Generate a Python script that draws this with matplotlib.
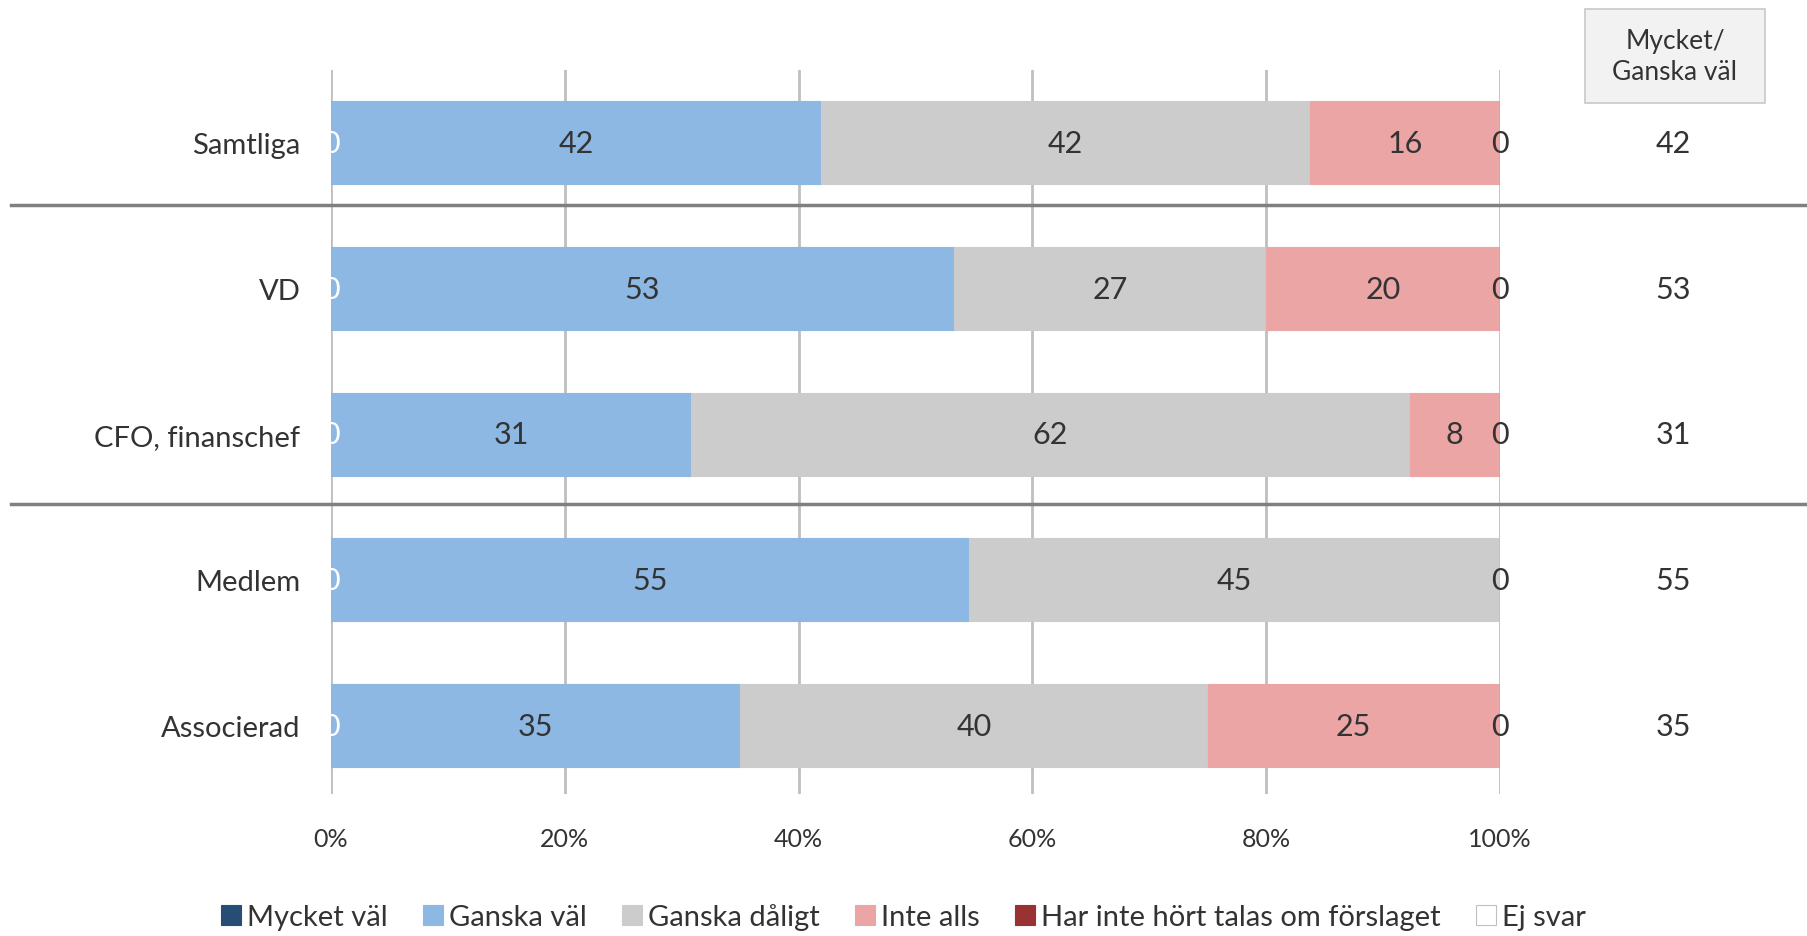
import matplotlib.pyplot as plt
import numpy as np

plt.rcParams['font.family'] = ['Lato', 'DejaVu Sans']

groups = ['Samtliga', 'VD', 'CFO, finanschef', 'Medlem', 'Associerad']
series = ['Mycket väl', 'Ganska väl', 'Ganska dåligt', 'Inte alls',
          'Har inte hört talas om förslaget', 'Ej svar']
colors = ['#264d73', '#8db8e3', '#cccccc', '#eba5a5', '#993333', '#ffffff']
label_colors = ['white', '#333333', '#333333', '#333333', 'white', '#333333']

mycket_val = [0, 0, 0, 0, 0]
ganska_val = [41.9, 53.3, 30.8, 54.6, 35.0]
ganska_daligt = [41.9, 26.7, 61.5, 45.4, 40.0]
inte_alls = [16.2, 20.0, 7.7, 0, 25.0]
har_inte_hort = [0, 0, 0, 0, 0]
ej_svar = [0, 0, 0, 0, 0]
summary = [42, 53, 31, 55, 35]

values = [mycket_val, ganska_val, ganska_daligt, inte_alls, har_inte_hort, ej_svar]

fig = plt.figure(figsize=(18.07, 9.37), dpi=100)
ax = fig.add_axes([0.1832, 0.1515, 0.6468, 0.7727])

y = np.arange(len(groups))
left = np.zeros(len(groups))
for name, vals, col, lc in zip(series, values, colors, label_colors):
    vals = np.array(vals)
    ax.barh(y, vals, left=left, height=0.57, color=col, label=name,
            edgecolor='#bfbfbf' if col == '#ffffff' else col, linewidth=0.8, zorder=2)
    for i, v in enumerate(vals):
        if v > 0 or name in ('Mycket väl', 'Ej svar'):
            ax.text(left[i] + v / 2, y[i], f'{v:.0f}', ha='center', va='center',
                    fontsize=22, color=lc, zorder=3)
    left += vals

ax.set_xlim(0, 100)
ax.set_ylim(4.47, -0.5)
ax.set_xticks(range(0, 101, 20))
ax.set_xticklabels([f'{t}%' for t in range(0, 101, 20)], fontsize=18, color='#333333')
ax.set_yticks(y)
ax.set_yticklabels(groups, fontsize=21, color='#333333')
ax.tick_params(length=0, pad=22)
ax.tick_params(axis='x', pad=24)
ax.grid(axis='x', color='#bfbfbf', linewidth=2, zorder=0)
for s in ax.spines.values():
    s.set_visible(False)

# separator lines between groups
for yy in (1 - 206 / 937, 1 - 505 / 937):
    fig.add_artist(plt.Line2D([11 / 1807, 1], [yy, yy], color='#808080', linewidth=2.5))

# summary column
box = plt.Rectangle((1585 / 1807, 1 - 104 / 937), 180 / 1807, 94 / 937,
                    transform=fig.transFigure, facecolor='#f2f2f2',
                    edgecolor='#c8c8c8', linewidth=1.2)
fig.add_artist(box)
fig.text(1675 / 1807, 1 - 57 / 937, 'Mycket/\nGanska väl', ha='center', va='center',
         fontsize=19, color='#333333', linespacing=1.3)
for i, v in enumerate(summary):
    yf = ax.transData.transform((0, y[i]))[1] / fig.bbox.height
    fig.text(1673 / 1807, yf, str(v), ha='center', va='center', fontsize=22, color='#333333')

fig.legend(loc='lower center', bbox_to_anchor=(0.5, -0.022), ncol=6, frameon=False,
           fontsize=21, handlelength=0.7, handleheight=0.7, handletextpad=0.2,
           columnspacing=1.2, labelcolor='#333333')

fig.savefig('out.png', dpi=100)
